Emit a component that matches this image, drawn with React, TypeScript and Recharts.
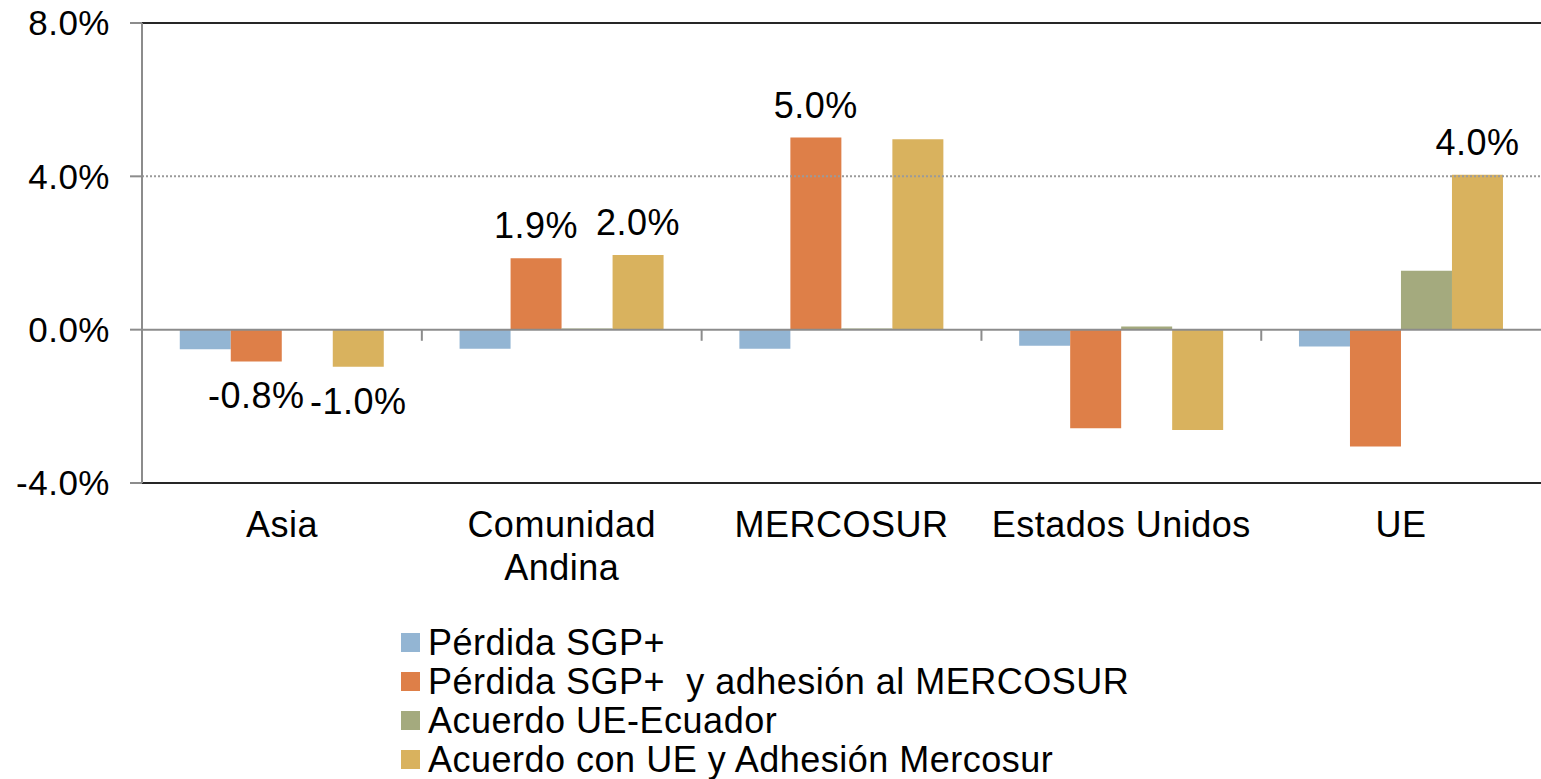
import React from 'react';
import { BarChart, Bar, XAxis, YAxis, ReferenceLine, Legend, LabelList, Rectangle } from 'recharts';

const categories = ['Asia', 'Comunidad Andina', 'MERCOSUR', 'Estados Unidos', 'UE'];
const categoryLines = [['Asia'], ['Comunidad', 'Andina'], ['MERCOSUR'], ['Estados Unidos'], ['UE']];
const seriesNames = [
  'Pérdida SGP+',
  'Pérdida SGP+  y adhesión al MERCOSUR',
  'Acuerdo UE-Ecuador',
  'Acuerdo con UE y Adhesión Mercosur',
];
const perdidaSGP = [-0.51, -0.5, -0.5, -0.42, -0.44];
const perdidaMercosur = [-0.83, 1.86, 5.01, -2.57, -3.05];
const acuerdoUE = [0, 0.03, 0.03, 0.08, 1.54];
const acuerdoUEMercosur = [-0.965, 1.95, 4.97, -2.62, 4.04];
const perdidaMercosurLabels = ['-0.8%', '1.9%', '5.0%', '', ''];
const acuerdoUEMercosurLabels = ['-1.0%', '2.0%', '', '', '4.0%'];
const yDomain = [-4, 8];
const yTicks = [-4, 0, 4, 8];
const boundaryTickLength = 0.29;
const colors = ['#93b5d3', '#de7f48', '#a4aa7e', '#d9b25e'];
const keys = ['s1', 's2', 's3', 's4'];
const CATEGORY_GAP = 0.135;

const FONT = '"Liberation Sans", Arial, sans-serif';
const FS = 36;
const LS = 0.5;

const data = categories.map((name, i) => ({
  name,
  s1: perdidaSGP[i],
  s2: perdidaMercosur[i],
  s3: acuerdoUE[i],
  s4: acuerdoUEMercosur[i],
  l2: perdidaMercosurLabels[i],
  l4: acuerdoUEMercosurLabels[i],
}));

// first bar of each group also draws the short axis tick at the start of its category band
const FirstBarShape = (props: any) => {
  const { x, y, width, height, index, background, payload } = props;
  let tick = null;
  if (index > 0) {
    const band = (keys.length * width) / (1 - 2 * CATEGORY_GAP);
    const bx = x - CATEGORY_GAP * band;
    let y0: number | null = null;
    let y1: number | null = null;
    if (background && background.height) {
      const span = yDomain[1] - yDomain[0];
      const yAt = (v: number) => background.y + (background.height * (yDomain[1] - v)) / span;
      y0 = yAt(0);
      y1 = yAt(-boundaryTickLength);
    } else {
      const v = payload ? payload[keys[0]] : null;
      if (typeof v === 'number' && v !== 0 && height) {
        const pxPerUnit = Math.abs(height) / Math.abs(v);
        y0 = v >= 0 ? Math.max(y, y + height) : Math.min(y, y + height);
        y1 = y0 + boundaryTickLength * pxPerUnit;
      }
    }
    if (y0 !== null && y1 !== null) {
      tick = <line x1={bx} x2={bx} y1={y0} y2={y1} stroke="#8c8c8c" strokeWidth={2} />;
    }
  }
  return (
    <g>
      <Rectangle x={x} y={y} width={width} height={height} fill={props.fill} />
      {tick}
    </g>
  );
};

const renderLabel = (props: any) => {
  const { x, y, width, height, value } = props;
  if (!value) return null;
  const top = Math.min(y, y + height);
  const bottom = Math.max(y, y + height);
  const neg = String(value).startsWith('-');
  return (
    <text
      x={x + width / 2}
      y={neg ? bottom + 47 : top - 20}
      textAnchor="middle"
      fontSize={FS}
      letterSpacing={LS}
      fontFamily={FONT}
      fill="#000"
    >
      {value}
    </text>
  );
};

const CategoryTick = (props: any) => {
  const { x, y, index } = props;
  const lines = categoryLines[index] || [props.payload?.value];
  return (
    <text x={x} y={y} textAnchor="middle" fontSize={FS} letterSpacing={LS} fontFamily={FONT} fill="#000">
      {lines.map((ln: string, k: number) => (
        <tspan key={k} x={x} dy={k === 0 ? 54 : 43}>
          {ln}
        </tspan>
      ))}
    </text>
  );
};

const LegendContent = () => (
  <div style={{ fontFamily: FONT, fontSize: FS, letterSpacing: LS, lineHeight: '39px', color: '#000' }}>
    {seriesNames.map((n, i) => (
      <div key={i} style={{ display: 'flex', alignItems: 'center', height: 39, whiteSpace: 'pre' }}>
        <span style={{ display: 'inline-block', width: 19, height: 19, background: colors[i], marginRight: 8 }} />
        <span>{n}</span>
      </div>
    ))}
  </div>
);

export default function App() {
  return (
    <div style={{ position: 'absolute', left: 0, top: 0, width: 1541, height: 779, background: '#fff', overflow: 'hidden' }}>
      <BarChart
        width={1541}
        height={779}
        data={data}
        margin={{ top: 23, right: 0, left: 0, bottom: 196 }}
        barCategoryGap={`${CATEGORY_GAP * 100}%`}
        barGap={0}
      >
        <XAxis
          dataKey="name"
          axisLine={false}
          tickLine={false}
          tickSize={0}
          tickMargin={0}
          height={100}
          interval={0}
          tick={(p: any) => <CategoryTick {...p} />}
        />
        <YAxis
          type="number"
          domain={yDomain}
          ticks={yTicks}
          interval={0}
          width={142}
          tickSize={12}
          tickMargin={20}
          axisLine={{ stroke: '#8c8c8c', strokeWidth: 2 }}
          tickLine={{ stroke: '#8c8c8c', strokeWidth: 2 }}
          tick={{ fontSize: FS - 1, letterSpacing: LS, fontFamily: FONT, fill: '#000' }}
          tickFormatter={(v: number) => `${v.toFixed(1)}%`}
        />
        {keys.map((k, i) => (
          <Bar
            key={k}
            dataKey={k}
            name={seriesNames[i]}
            fill={colors[i]}
            isAnimationActive={false}
            shape={i === 0 ? (p: any) => <FirstBarShape {...p} /> : undefined}
          >
            {k === 's2' && <LabelList dataKey="l2" content={renderLabel} />}
            {k === 's4' && <LabelList dataKey="l4" content={renderLabel} />}
          </Bar>
        ))}
        <ReferenceLine y={4} stroke="#9a9a9a" strokeWidth={2} strokeDasharray="2 2" />
        <ReferenceLine y={8} stroke="#262626" strokeWidth={2} />
        <ReferenceLine y={-4} stroke="#262626" strokeWidth={2} />
        <ReferenceLine y={0} stroke="#8c8c8c" strokeWidth={2} />
        <Legend
          layout="vertical"
          align="center"
          verticalAlign="middle"
          wrapperStyle={{ left: 401, top: 623, width: 900, height: 156 }}
          content={() => <LegendContent />}
        />
      </BarChart>
    </div>
  );
}
